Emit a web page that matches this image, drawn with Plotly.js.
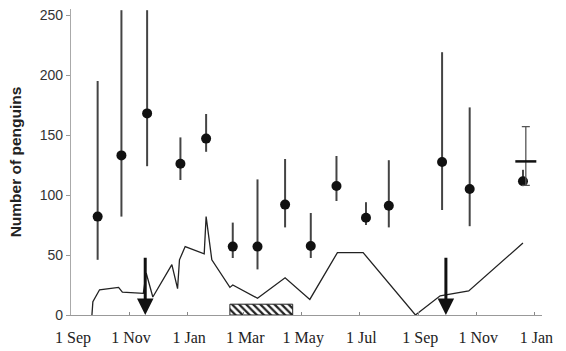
<!DOCTYPE html>
<html>
<head>
<meta charset="utf-8">
<script src="https://cdn.plot.ly/plotly-2.35.2.min.js"></script>
<style>html,body{margin:0;padding:0;background:#fff;}#chart{width:566px;height:351px;}</style>
</head>
<body>
<div id="chart"></div>
<script>
// Survey counts: mean with range (low / high)
const countDates = ["2001-09-29","2001-10-24","2001-11-20","2001-12-25","2002-01-21","2002-02-18","2002-03-16","2002-04-14","2002-05-11","2002-06-07","2002-07-08","2002-08-01","2002-09-26","2002-10-25","2002-12-20"];
const countMean  = [82, 133, 168, 126, 147, 57, 57, 92, 57.5, 107.5, 81, 91, 127.5, 105, 111.5];
const countLow   = [46, 82, 124, 112.5, 136, 47.5, 38, 73, 47.5, 95, 75, 73, 87.5, 74, 108];
const countHigh  = [195, 254, 254, 148, 167.5, 77, 113, 130, 85, 132.5, 94, 129, 219, 173, 121];

// Single estimate shown as a dash with capped range
const dashDates = ["2002-12-23"];
const dashValue = [128];
const dashLow   = [108];
const dashHigh  = [157];

// Continuous count line
const lineDates = ["2001-09-23","2001-09-24","2001-10-01","2001-10-21","2001-10-25","2001-11-16","2001-11-19","2001-11-26","2001-12-16","2001-12-22","2001-12-24","2001-12-30","2002-01-19","2002-01-21","2002-01-27","2002-02-15","2002-02-18","2002-03-16","2002-04-14","2002-05-10","2002-06-08","2002-07-05","2002-08-29","2002-09-24","2002-10-24","2002-12-20"];
const lineValues = [0, 11, 21, 23, 19, 18, 35, 15, 42, 22, 46, 57, 51, 82, 46, 23, 25, 14, 31, 13, 52, 52, 0, 16, 20, 60];

// Arrows (events)
const arrowDates = ["2001-11-18","2002-09-30"];
const arrowTop = [49, 49];

// Hatched period
const hatchStart = "2002-02-15";
const hatchEnd = "2002-04-22";
const hatchHeight = 9;

const yTicks = [0, 50, 100, 150, 200, 250];

const t0 = new Date(hatchStart).getTime();
const t1 = new Date(hatchEnd).getTime();
const hatchMid = new Date((t0 + t1) / 2).toISOString().slice(0, 10);

const traces = [
  {
    type: 'bar', x: [hatchMid], y: [hatchHeight], width: [t1 - t0],
    marker: {color: '#ffffff', line: {color: '#222', width: 1},
      pattern: {shape: '\\', fgcolor: '#222', bgcolor: '#fff', size: 5, solidity: 0.45}},
    hoverinfo: 'skip', showlegend: false
  },
  {
    type: 'scatter', mode: 'lines', x: lineDates, y: lineValues,
    line: {color: '#222', width: 1.3}, showlegend: false
  },
  {
    type: 'scatter', mode: 'markers', x: countDates, y: countMean,
    marker: {color: '#111', size: 10},
    error_y: {type: 'data', symmetric: false,
      array: countHigh.map((h, i) => h - countMean[i]),
      arrayminus: countLow.map((l, i) => countMean[i] - l),
      color: '#444', thickness: 2, width: 0},
    showlegend: false
  },
  {
    type: 'scatter', mode: 'markers', x: dashDates, y: dashValue,
    marker: {symbol: 'line-ew', size: 15, line: {color: '#111', width: 2.5}},
    error_y: {type: 'data', symmetric: false,
      array: dashHigh.map((h, i) => h - dashValue[i]),
      arrayminus: dashLow.map((l, i) => dashValue[i] - l),
      color: '#555', thickness: 1.3, width: 4},
    showlegend: false
  }
];

const annotations = arrowDates.map((d, i) => ({
  x: d, y: 0, ax: d, ay: arrowTop[i], xref: 'x', yref: 'y', axref: 'x', ayref: 'y',
  text: '', showarrow: true, arrowhead: 2, arrowsize: 1.1, arrowwidth: 3, arrowcolor: '#111'
}));

const layout = {
  width: 566, height: 351,
  margin: {l: 71, r: 24, t: 9, b: 36},
  paper_bgcolor: '#fff', plot_bgcolor: '#fff',
  showlegend: false,
  bargap: 0,
  xaxis: {
    type: 'date', range: ['2001-09-01', '2003-01-09'],
    tickmode: 'linear', tick0: '2001-09-01', dtick: 'M2', tickformat: '%-d %b',
    ticks: 'inside', ticklen: 3, tickcolor: '#888',
    showline: true, linecolor: '#999', linewidth: 1.2,
    showgrid: false, zeroline: false,
    ticklabelstandoff: 8, ticklabelshift: 2,
    tickfont: {family: '"Liberation Serif", "Times New Roman", serif', size: 16, color: '#222'}
  },
  yaxis: {
    range: [0, 255], tickvals: yTicks,
    ticks: 'outside', ticklen: 4, tickcolor: '#999',
    showline: true, linecolor: '#aaa', linewidth: 1.2,
    showgrid: false, zeroline: false,
    tickfont: {family: '"Liberation Sans", Arial, sans-serif', size: 14, color: '#333'},
    title: {text: 'Number of penguins', standoff: 14,
      font: {family: '"Liberation Sans", Arial, sans-serif', size: 15.5, color: '#222', weight: 'bold'}}
  },
  annotations: annotations
};

Plotly.newPlot('chart', traces, layout, {displayModeBar: false, staticPlot: true});
</script>
</body>
</html>
